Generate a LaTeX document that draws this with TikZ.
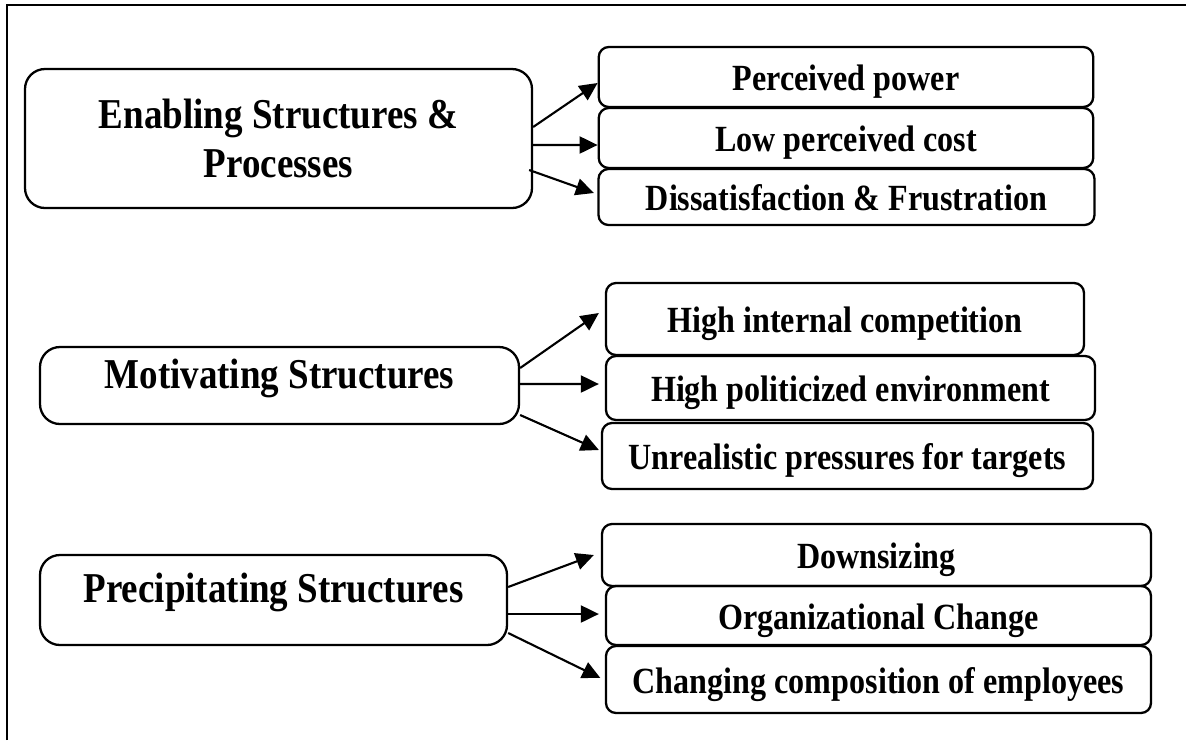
\documentclass[tikz,border=0pt]{standalone}
\usepackage{fontspec}
\setmainfont{Liberation Serif}[FakeStretch=0.87]
\usetikzlibrary{arrows.meta,calc}
\tikzset{
  mainbox/.style   ={draw=black, rounded corners=0.4cm, line width=1.3pt,
                     align=center, inner sep=2pt,
                     font=\fontsize{24.2}{28}\selectfont\bfseries},
  oneline/.style   ={text height=0.53cm, text depth=0.42cm},
  causebox/.style  ={draw=black, rounded corners=0.2cm, line width=1.3pt,
                     inner sep=2pt, text height=0.54cm, text depth=0pt,
                     font=\fontsize{21}{24}\selectfont\bfseries},
  causearr/.style  ={-{Triangle[length=3.6mm,width=3.4mm]}, line width=1.2pt},
  frameline/.style ={line width=1.6pt},
}

\begin{document}
\begin{tikzpicture}[x=1cm,y=1cm]
        \useasboundingbox (0,0) rectangle (23.72,-14.8);
        \draw[frameline] (0.14,-14.8) -- (0.14,-0.1) -- (23.72,-0.1);

        % left column
        \node[mainbox,minimum width=10.14cm,minimum height=2.78cm] (esp) at (5.57,-2.77)
          {Enabling Structures \&\\Processes};
        \node[mainbox,oneline,minimum width=9.58cm,minimum height=1.54cm] (ms) at (5.59,-7.71)
          {Motivating Structures};
        \node[mainbox,oneline,minimum width=9.34cm,minimum height=1.8cm] (ps) at (5.47,-12.0)
          {Precipitating Structures};

        % enabling
        \node[causebox,minimum width=9.89cm,minimum height=1.2cm] (pp) at (16.92,-1.54) {Perceived power};
        \node[causebox,minimum width=9.89cm,minimum height=1.2cm] (lpc) at (16.92,-2.76) {Low perceived cost};
        \node[causebox,minimum width=9.92cm,minimum height=1.12cm] (df) at (16.93,-3.94) {Dissatisfaction \& Frustration};

        % motivating
        \node[causebox,minimum width=9.56cm,minimum height=1.44cm] (hic) at (16.9,-6.38) {High internal competition};
        \node[causebox,minimum width=9.78cm,minimum height=1.28cm] (hpe) at (17.01,-7.76) {High politicized environment};
        \node[causebox,minimum width=9.82cm,minimum height=1.32cm] (upt) at (16.95,-9.12) {Unrealistic pressures for targets};

        % precipitating
        \node[causebox,minimum width=10.98cm,minimum height=1.24cm] (ds) at (17.53,-11.1) {Downsizing};
        \node[causebox,minimum width=10.9cm,minimum height=1.18cm] (oc) at (17.57,-12.31) {Organizational Change};
        \node[causebox,minimum width=10.9cm,minimum height=1.34cm] (cce) at (17.57,-13.59) {Changing composition of employees};

        % arrows
        \draw[causearr] ($(esp.east)+(0,0.23)$) -- ($(pp.west)+(0,-0.12)$);
        \draw[causearr] ($(esp.east)+(0,-0.13)$) -- ($(lpc.west)+(0,-0.14)$);
        \draw[causearr] ($(esp.east)+(-0.08,-0.63)$) -- ($(df.west)+(-0.07,0.08)$);

        \draw[causearr] ($(ms.east)+(0,0.35)$) -- ($(hic.west)+(-0.12,0.12)$);
        \draw[causearr] ($(ms.east)+(0,0.03)$) -- ($(hpe.west)+(-0.12,0.08)$);
        \draw[causearr] ($(ms.east)+(0,-0.59)$) -- ($(upt.west)+(-0.04,0.12)$);

        \draw[causearr] ($(ps.east)+(0,0.26)$) -- ($(ds.west)+(-0.14,0)$);
        \draw[causearr] ($(ps.east)+(0,-0.28)$) -- ($(oc.west)+(-0.12,0.03)$);
        \draw[causearr] ($(ps.east)+(0,-0.66)$) -- ($(cce.west)+(-0.09,0.03)$);
      \end{tikzpicture}
\end{document}
